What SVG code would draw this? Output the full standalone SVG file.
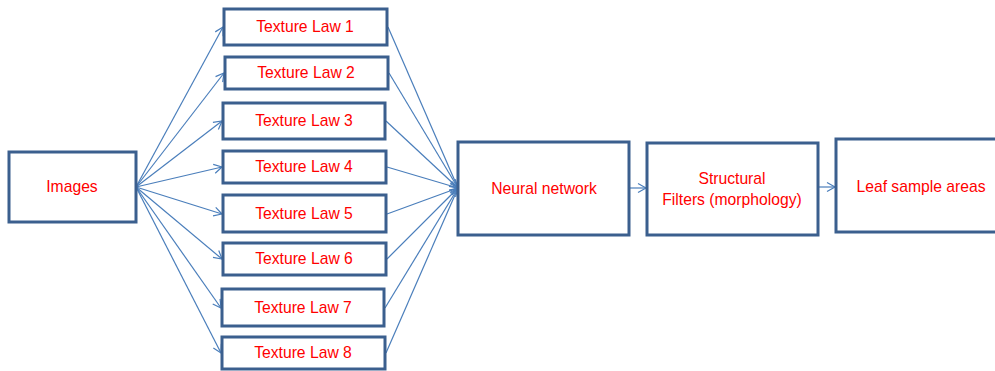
<svg xmlns="http://www.w3.org/2000/svg" width="995" height="371" viewBox="0 0 995 371">
<defs>
<style>
.box{fill:#fff;stroke:#3b5f8e;stroke-width:3}
.lbl{fill:#ff0000;font-family:"Liberation Sans",Arial,sans-serif;font-size:15.7px;text-anchor:middle}
.con line{stroke:#4a7ebb;stroke-width:1.2;marker-end:url(#ah)}
</style>
<marker id="ah" markerUnits="userSpaceOnUse" markerWidth="12" markerHeight="12" refX="9" refY="5" orient="auto" viewBox="0 0 12 10">
<path d="M1,0.5 L9,5 L1,9.5" fill="none" stroke="#4a7ebb" stroke-width="1.2"/>
</marker>
</defs>
<rect width="995" height="371" fill="#fff"/>
<g class="con" id="connectors">
<line x1="136" y1="187" x2="223" y2="27"/>
<line x1="136" y1="187" x2="224" y2="73"/>
<line x1="136" y1="187" x2="222" y2="121"/>
<line x1="136" y1="187" x2="222" y2="167"/>
<line x1="136" y1="187" x2="222" y2="214"/>
<line x1="136" y1="187" x2="222" y2="259"/>
<line x1="136" y1="187" x2="221" y2="308"/>
<line x1="136" y1="187" x2="221" y2="353"/>
<line x1="388" y1="27" x2="458" y2="188"/>
<line x1="389" y1="73" x2="458" y2="188"/>
<line x1="386" y1="121" x2="458" y2="188"/>
<line x1="387" y1="167" x2="458" y2="188"/>
<line x1="387" y1="214" x2="458" y2="188"/>
<line x1="387" y1="259" x2="458" y2="188"/>
<line x1="385" y1="308" x2="458" y2="188"/>
<line x1="386" y1="353" x2="458" y2="188"/>
<line x1="630" y1="188" x2="646" y2="188"/>
<line x1="819" y1="187" x2="835" y2="187"/>
</g>
<g id="images"><rect class="box" x="9" y="152" width="127" height="70"/><text class="lbl" x="72" y="192">Images</text></g>
<g id="tl1"><rect class="box" x="224" y="9" width="163" height="36"/><text class="lbl" x="305" y="32">Texture Law 1</text></g>
<g id="tl2"><rect class="box" x="225" y="57" width="163" height="32"/><text class="lbl" x="306" y="78">Texture Law 2</text></g>
<g id="tl3"><rect class="box" x="223" y="103" width="162" height="36"/><text class="lbl" x="304" y="126">Texture Law 3</text></g>
<g id="tl4"><rect class="box" x="223" y="151" width="163" height="32"/><text class="lbl" x="304" y="172">Texture Law 4</text></g>
<g id="tl5"><rect class="box" x="223" y="195" width="163" height="37"/><text class="lbl" x="304" y="219">Texture Law 5</text></g>
<g id="tl6"><rect class="box" x="223" y="243" width="163" height="32"/><text class="lbl" x="304" y="264">Texture Law 6</text></g>
<g id="tl7"><rect class="box" x="222" y="289" width="162" height="37"/><text class="lbl" x="303" y="313">Texture Law 7</text></g>
<g id="tl8"><rect class="box" x="222" y="337" width="163" height="32"/><text class="lbl" x="303" y="358">Texture Law 8</text></g>
<g id="nn"><rect class="box" x="458" y="142" width="171" height="93"/><text class="lbl" x="544" y="194">Neural network</text></g>
<g id="sf"><rect class="box" x="647" y="143" width="171" height="92"/><text class="lbl" x="732" y="184">Structural</text><text class="lbl" x="732" y="205">Filters (morphology)</text></g>
<g id="leaf"><rect class="box" x="836" y="139" width="165" height="93"/><text class="lbl" x="921" y="192">Leaf sample areas</text></g>
</svg>
